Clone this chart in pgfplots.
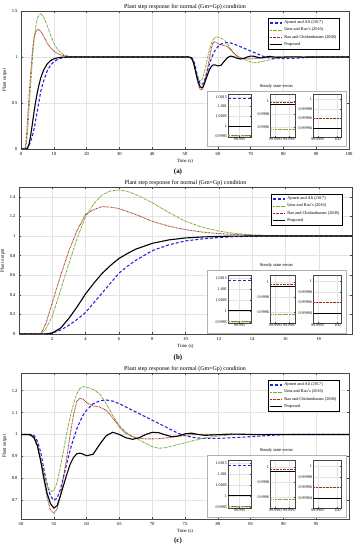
\documentclass[border=0pt]{standalone}
\usepackage{fontspec}
\setmainfont{Liberation Serif}
\usepackage{pgfplots}
\pgfplotsset{compat=1.18}
\usepackage{pgfplotstable}

\definecolor{cAj}{RGB}{35,35,225}
\definecolor{cUma}{RGB}{119,172,48}
\definecolor{cRao}{RGB}{165,45,30}

\pgfplotstableread{
t aj uma rao prop
0 0 0 0 0
1 0 0 0 0
1.3 0 0 0 0
1.6 0 0.05 0.1 0
2 0.01 0.18 0.32 0.01
2.5 0.04 0.45 0.6 0.06
3 0.09 0.72 0.85 0.16
3.5 0.15 0.98 1.06 0.28
4 0.22 1.2 1.22 0.41
4.5 0.32 1.33 1.27 0.52
5 0.42 1.42 1.3 0.62
5.5 0.52 1.46 1.295 0.70
6 0.62 1.47 1.28 0.77
6.5 0.69 1.455 1.25 0.82
7 0.75 1.425 1.22 0.865
8 0.85 1.34 1.15 0.925
9 0.91 1.24 1.1 0.96
10 0.95 1.15 1.065 0.98
11 0.97 1.09 1.04 0.99
12 0.985 1.05 1.025 0.996
13 0.993 1.025 1.015 0.999
14 0.997 1.012 1.008 1
15 0.999 1.005 1.004 1
16 1 1.002 1.002 1
18 1 1 1 1
20 1 1 1 1
}\rise

\pgfplotstableread{
t aj uma rao prop
20 1 1 1 1
50 1 1 1 1
51 1 1 1 1
51.5 1 0.995 0.997 0.998
52 0.995 0.98 0.985 0.985
52.5 0.97 0.94 0.95 0.95
53 0.92 0.88 0.88 0.88
53.5 0.84 0.82 0.79 0.8
54 0.77 0.765 0.71 0.73
54.5 0.72 0.74 0.655 0.685
55 0.70 0.745 0.64 0.665
55.5 0.71 0.78 0.66 0.675
56 0.75 0.85 0.72 0.72
56.5 0.81 0.93 0.81 0.77
57 0.87 1.01 0.9 0.82
57.5 0.93 1.08 1.0 0.865
58 0.98 1.14 1.09 0.895
58.5 1.025 1.185 1.15 0.912
59 1.06 1.21 1.165 0.915
59.5 1.09 1.218 1.16 0.91
60 1.11 1.215 1.145 0.903
61 1.14 1.205 1.13 0.91
62 1.153 1.185 1.125 0.955
63 1.157 1.14 1.11 0.995
64 1.152 1.085 1.075 1.01
65 1.14 1.04 1.035 1.0
66 1.125 1.01 1.005 0.985
67 1.11 0.99 0.99 0.978
68 1.095 0.975 0.983 0.985
69 1.08 0.96 0.98 1.0
70 1.065 0.945 0.98 1.01
71 1.05 0.937 0.981 1.008
72 1.035 0.94 0.984 0.998
73 1.02 0.947 0.988 0.99
74 1.005 0.955 0.992 0.993
75 0.995 0.962 0.996 1.003
76 0.988 0.97 0.999 1.006
77 0.984 0.977 1.0 1.0
78 0.982 0.984 1.001 0.996
80 0.982 0.993 1.0 0.999
82 0.985 0.998 1 1.002
84 0.988 1.0 1 1.001
86 0.992 1.001 1 0.999
88 0.996 1.0 1 1
90 0.999 1 1 1
92 1 1 1 1
95 1 1 1 1
100 1 1 1 1
}\dist

\pgfplotsset{
  sAj/.style={cAj, line width=1.1pt, dash pattern=on 3pt off 2pt},
  sUma/.style={cUma, line width=0.8pt, dash pattern=on 2.5pt off 0.8pt on 0.6pt off 0.8pt},
  sRao/.style={cRao, line width=0.9pt, dash pattern=on 0.7pt off 0.7pt},
  sProp/.style={black, line width=1.1pt, solid},
  mainax/.style={scale only axis, anchor=south west, tick align=inside,
    grid=major, major grid style={gray!22, line width=0.3pt},
    axis line style={gray!55!black, line width=0.4pt},
    tick style={gray!55!black, line width=0.3pt}, major tick length=2bp,
    ticklabel style={font=\fontsize{4.6}{5}\selectfont},
    /pgf/number format/assume math mode=true,
    label style={font=\fontsize{4.8}{5.5}\selectfont},
    xlabel style={yshift=3pt},
    ylabel style={yshift=-2pt},
    title style={font=\fontsize{6}{6.5}\selectfont, at={(0.5,1)}, anchor=south, inner sep=0.5pt, yshift=-5pt},
    title={Plant step response for normal (Gm=Gp) condition},
    xlabel={Time (s)}, ylabel={Plant output},
    legend style={font=\fontsize{4.3}{4.8}\selectfont, at={(1,1)}, anchor=north east,
      xshift=-10bp, yshift=-7bp, inner sep=0.6pt, row sep=-1.2pt, draw=black, line width=0.3pt},
    legend cell align=left,
    legend image code/.code={\draw[##1] (0bp,0bp)--(12bp,0bp);},
  },
  inset/.style={scale only axis, anchor=south west, tick align=inside,
    grid=major, major grid style={gray!22, line width=0.3pt},
    axis line style={gray!55!black, line width=0.4pt},
    tick style={gray!55!black, line width=0.3pt}, major tick length=1.2bp,
    ticklabel style={font=\fontsize{4.1}{4.3}\selectfont, inner sep=0.9pt},
    xmin=0, xmax=1},
}

% #1 = bottom y of inner boxes, #2 = height of inner boxes, #3 frame bottom, #4 frame top
\newcommand\insets[4]{%
  \draw[gray!60, line width=0.6pt, fill=white] (207bp,#3) rectangle (346bp,#4);
  \node[font=\fontsize{4.5}{5}\selectfont, anchor=south, inner sep=0.5pt] at (276.5bp,#4+1.5bp) {Steady state errors};
  \begin{axis}[inset, at={(228bp,#1)}, width=23bp, height=#2,
    ymin=-5.6, ymax=16.5, xtick={0.5}, xticklabels={99.995},
    ytick={-5,0,5,10,15}, yticklabels={0.9995,1,1.0005,1.001,1.0015}]
    \addplot[sAj] coordinates {(0,14) (1,14)};
    \addplot[sRao] coordinates {(0,-5.0) (1,-5.0)};
    \addplot[sUma] coordinates {(0,-4.7) (1,-4.7)};
    \addplot[sProp] coordinates {(0,0) (1,0)};
  \end{axis}
  \begin{axis}[inset, at={(270bp,#1)}, width=25bp, height=#2,
    ymin=-5.4, ymax=1.0, xtick={0.22,0.78}, xticklabels={99.9993,99.9997},
    ytick={-4,-2,0}, yticklabels={0.9996,0.9998,1}]
    \addplot[sUma] coordinates {(0,-4.2) (1,-4.2)};
    \addplot[sProp] coordinates {(0,-0.5) (1,-0.5)};
    \addplot[sRao] coordinates {(0,-0.25) (1,-0.25)};
  \end{axis}
  \begin{axis}[inset, at={(313bp,#1)}, width=28bp, height=#2,
    ymin=-7.8, ymax=1.1, xtick={0.17,0.88}, xticklabels={99.9995,100},
    ytick={-6,-4,-2,0}, yticklabels={0.99994,0.99996,0.99998,1}]
    \addplot[sRao] coordinates {(0,-3.9) (1,-3.9)};
    \addplot[sProp] coordinates {(0,-6) (1,-6)};
  \end{axis}
}

\begin{document}
\begin{tikzpicture}
\useasboundingbox (0,0) rectangle (356bp,550bp);

% ---------- (a)
\begin{axis}[mainax, at={(21bp,401bp)}, width=328bp, height=138bp,
  xmin=0, xmax=100, ymin=0, ymax=1.5, xtick={0,10,...,100}, ytick={0,0.5,1,1.5}]
  \addplot[sAj] table[x=t,y=aj]{\rise};
  \addplot[sUma] table[x=t,y=uma]{\rise};
  \addplot[sRao] table[x=t,y=rao]{\rise};
  \addplot[sProp] table[x=t,y=prop]{\rise};
  \addplot[sAj, forget plot] table[x=t,y=aj]{\dist};
  \addplot[sUma, forget plot] table[x=t,y=uma]{\dist};
  \addplot[sRao, forget plot] table[x=t,y=rao]{\dist};
  \addplot[sProp, forget plot] table[x=t,y=prop]{\dist};
  \legend{Ajmeri and Ali (2017),Uma and Rao's (2016),Rao and Chidambaram (2008),Proposed}
\end{axis}
\insets{413bp}{43bp}{404bp}{459bp}
\node[font=\fontsize{7}{7.5}\selectfont\bfseries, inner sep=0pt] at (178bp,378.5bp) {(a)};

% ---------- (b)
\begin{axis}[mainax, at={(19bp,216bp)}, width=333bp, height=147bp,
  xmin=0, xmax=20, ymin=0, ymax=1.5, xtick={2,4,...,18}, ytick={0,0.2,...,1.4}]
  \addplot[sAj] table[x=t,y=aj]{\rise};
  \addplot[sUma] table[x=t,y=uma]{\rise};
  \addplot[sRao] table[x=t,y=rao]{\rise};
  \addplot[sProp] table[x=t,y=prop]{\rise};
  \legend{Ajmeri and Ali (2017),Uma and Rao's (2016),Rao and Chidambaram (2008),Proposed}
\end{axis}
\insets{227bp}{48bp}{217bp}{280bp}
\node[font=\fontsize{7}{7.5}\selectfont\bfseries, inner sep=0pt] at (178bp,192.5bp) {(b)};

% ---------- (c)
\begin{axis}[mainax, at={(21bp,31bp)}, width=328bp, height=146bp,
  xmin=50, xmax=100, ymin=0.615, ymax=1.28, xtick={50,55,...,95}, ytick={0.7,0.8,...,1.2}]
  \addplot[sAj] table[x=t,y=aj]{\dist};
  \addplot[sUma] table[x=t,y=uma]{\dist};
  \addplot[sRao] table[x=t,y=rao]{\dist};
  \addplot[sProp] table[x=t,y=prop]{\dist};
  \legend{Ajmeri and Ali (2017),Uma and Rao's (2016),Rao and Chidambaram (2008),Proposed}
\end{axis}
\insets{42bp}{48bp}{33bp}{95bp}
\node[font=\fontsize{7}{7.5}\selectfont\bfseries, inner sep=0pt] at (178bp,9bp) {(c)};
\end{tikzpicture}
\end{document}
